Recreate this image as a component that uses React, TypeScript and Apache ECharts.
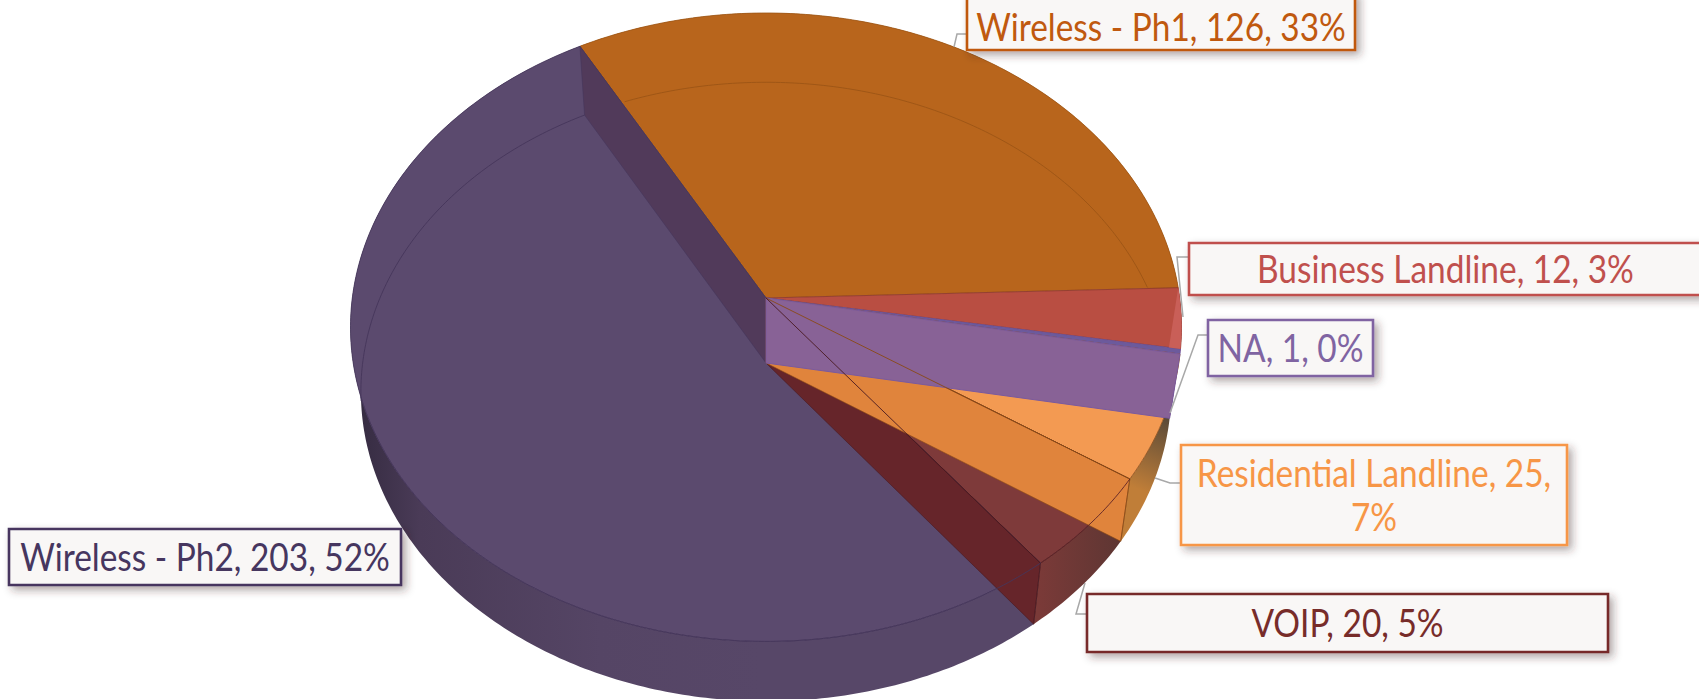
import React, { useEffect, useRef } from "react";
import * as echarts from "echarts";

const categories = ["Wireless - Ph1", "Business Landline", "NA", "Residential Landline", "VOIP", "Wireless - Ph2"];
const seriesValues = [126, 12, 1, 25, 20, 203];
const percentLabels = [33, 3, 0, 7, 5, 52];

const topColors = ["#B8651C", "#B94E42", "#6C5A9C", "#F39A52", "#7E3A3A", "#5B4A6E"];
const wallColors = ["#B8651C", "#B94E42", "#886296", "#E0843C", "#66252A", "#513A5A"];
const edgeColors = ["#9C5515", "#8E3A30", "#6A5098", "#8A4A15", "#4A1A20", "#45365A"];
const hasWall = [false, false, true, true, true, true];
const textColors = ["#C0590F", "#C0504D", "#8064A2", "#F79646", "#772C2A", "#46365F"];

// Projection of the tilted disc (perspective on a unit circle)
const W = 1699;
const H = 699;
const PX = 766;
const PY = 298;
const AX = 413.7;
const BY = 311.5;
const KP = 0.093;
const DEPTH = 65;
const SX = 0.975;
const SY = 0.985;
const START_DEG = -29.1;
const TOP_FRONT_LIMIT = 252;
const BOTTOM_BACK_LIMIT = 263;

const total = seriesValues.reduce((a, b) => a + b, 0);
const bounds = (i: number) => {
  let s = 0;
  for (let k = 0; k < i; k++) s += seriesValues[k];
  return [START_DEG + (s / total) * 360, START_DEG + ((s + seriesValues[i]) / total) * 360];
};

const topPt = (deg: number): number[] => {
  const r = (deg * Math.PI) / 180;
  const u = Math.sin(r);
  const v = -Math.cos(r);
  const w = 1 - KP * v;
  return [PX + (AX * u) / w, PY + (BY * v) / w];
};
const botPt = (deg: number): number[] => {
  const p = topPt(deg);
  return [PX + SX * (p[0] - PX), PY + DEPTH + SY * (p[1] - PY)];
};
const arc = (f: (d: number) => number[], a: number, b: number): number[][] => {
  const n = Math.max(2, Math.ceil(Math.abs(b - a) / 0.75));
  const out: number[][] = [];
  for (let i = 0; i <= n; i++) out.push(f(a + ((b - a) * i) / n));
  return out;
};
const P0 = [PX, PY];
const P1 = [PX, PY + DEPTH];
const side = (a: number[], b: number[], p: number[]) =>
  (b[0] - a[0]) * (p[1] - a[1]) - (b[1] - a[1]) * (p[0] - a[0]);

const rimFills = (i: number) => {
  if (i === 5) {
    return new echarts.graphic.LinearGradient(
      360, 0, 760, 0,
      [
        { offset: 0, color: "#362C42" },
        { offset: 0.15, color: "#4A3B57" },
        { offset: 0.6, color: "#554565" },
        { offset: 1, color: "#574768" },
      ],
      true
    );
  }
  if (i === 3) {
    return new echarts.graphic.LinearGradient(
      1140, 490, 1170, 420,
      [
        { offset: 0, color: "#C07E38" },
        { offset: 1, color: "#5A4A38" },
      ],
      true
    );
  }
  if (i === 4) {
    return new echarts.graphic.LinearGradient(
      1040, 0, 1120, 0,
      [
        { offset: 0, color: "#7A3A38" },
        { offset: 1, color: "#5E3633" },
      ],
      true
    );
  }
  return wallColors[i];
};

const rimItem = (p: any) => {
  const i = p.dataIndex;
  const [a, b] = bounds(i);
  const pts = arc(topPt, a, b).concat(arc(botPt, b, a));
  return { type: "polygon", shape: { points: pts }, silent: true, style: { fill: rimFills(i) } };
};

const topItem = (p: any) => {
  const i = p.dataIndex;
  const [a, b] = bounds(i);
  return {
    type: "polygon",
    shape: { points: [P0].concat(arc(topPt, a, b)) },
    silent: true,
    style: { fill: topColors[i], stroke: edgeColors[i], lineWidth: 0.8 },
  };
};

const wallItem = (p: any) => {
  const i = p.dataIndex;
  const [a, b] = bounds(i);
  if (i === 1) {
    const e = topPt(b);
    const inner = [PX + 0.972 * (e[0] - PX), PY + 0.972 * (e[1] - PY)];
    return {
      type: "polygon",
      shape: { points: arc(topPt, a, b).concat([inner]) },
      silent: true,
      style: { fill: "#C95F58" },
    };
  }
  if (!hasWall[i]) return null;
  return {
    type: "polygon",
    z2: 10 - i,
    shape: { points: [P0, topPt(b), botPt(b), P1] },
    silent: true,
    style: { fill: wallColors[i], stroke: i === 2 ? "#7A5A9E" : edgeColors[i], lineWidth: i === 2 ? 1 : 0.6 },
  };
};

const lineItem = (p: any) => {
  const i = p.dataIndex;
  const [a, b] = bounds(i);
  const kids: any[] = [];
  const add = (pts: number[][], color: string, lw = 0.9) =>
    kids.push({
      type: "polyline",
      shape: { points: pts },
      silent: true,
      style: { fill: "none", stroke: color, lineWidth: lw },
    });
  if (i === 0) {
    const s = topPt(a);
    const e = topPt(b);
    add(arc(botPt, a, b).filter((q) => side(P0, s, q) > 0 && side(P0, e, q) < 0), "#9C5515");
  }
  if (i === 3 || i === 4) add([P0, topPt(b)], edgeColors[i]);
  if (i === 3 || i === 4) add([topPt(b), botPt(b)], edgeColors[i], 0.7);
  if (i === 4) add(arc(topPt, a, b), "#5E2226");
  if (i === 5) {
    add(arc(topPt, a, TOP_FRONT_LIMIT), edgeColors[i]);
    add(arc(botPt, BOTTOM_BACK_LIMIT, b), edgeColors[i]);
  }
  return { type: "group", children: kids };
};

const makeSeries = (renderItem: any, z: number) => ({
  type: "custom",
  coordinateSystem: "none",
  silent: true,
  z,
  data: seriesValues,
  renderItem,
});

// Label boxes [left, top, right, bottom], text centre, leader lines
const boxes = [
  [967, -8, 1355, 50],
  [1189, 243, 1702, 295],
  [1208, 320, 1373, 376],
  [1181, 445, 1567, 545],
  [1087, 594, 1608, 652],
  [9, 529, 401, 585],
];
const leaders = [
  [[954, 47], [957, 34], [967, 34]],
  [[1189, 257], [1177, 257], [1183, 317]],
  [[1208, 335], [1198, 335], [1170, 413]],
  [[1181, 483], [1170, 483], [1155, 478]],
  [[1087, 614], [1076, 614], [1085, 583]],
];
const FONT_SIZE = 38;
const TEXT_SCALE = 0.88;

const labelText = (i: number) =>
  i === 3
    ? `${categories[i]}, ${seriesValues[i]},\n${percentLabels[i]}%`
    : `${categories[i]}, ${seriesValues[i]}, ${percentLabels[i]}%`;

const graphicEls = () => {
  const els: any[] = [];
  leaders.forEach((pts) =>
    els.push({
      type: "polyline",
      z: 50,
      silent: true,
      shape: { points: pts },
      style: { fill: "none", stroke: "#A8A8A8", lineWidth: 1.5 },
    })
  );
  boxes.forEach((b, i) => {
    els.push({
      type: "rect",
      z: 60,
      silent: true,
      shape: { x: b[0], y: b[1], width: b[2] - b[0], height: b[3] - b[1] },
      style: {
        fill: "#F9F7F6",
        stroke: textColors[i],
        lineWidth: 2.6,
        shadowBlur: 8,
        shadowOffsetX: 4,
        shadowOffsetY: 4,
        shadowColor: "rgba(60,40,40,0.4)",
      },
    });
    els.push({
      type: "text",
      z: 61,
      silent: true,
      x: (b[0] + b[2]) / 2,
      y: (b[1] + b[3]) / 2 + (i === 0 ? 6 : 0),
      scaleX: TEXT_SCALE,
      style: {
        text: labelText(i),
        fill: textColors[i],
        font: `${FONT_SIZE}px Lato`,
        align: "center",
        verticalAlign: "middle",
        lineHeight: 44,
      },
    });
  });
  return els;
};

export default function App() {
  const ref = useRef<HTMLDivElement>(null);
  useEffect(() => {
    const chart = echarts.init(ref.current!, undefined, { renderer: "svg" });
    chart.setOption({
      animation: false,
      backgroundColor: "#FFFFFF",
      series: [makeSeries(rimItem, 1), makeSeries(topItem, 2), makeSeries(wallItem, 3), makeSeries(lineItem, 4)],
      graphic: { elements: graphicEls() },
    });
    return () => chart.dispose();
  }, []);
  return <div ref={ref} style={{ position: "absolute", left: 0, top: 0, width: W, height: H }} />;
}
